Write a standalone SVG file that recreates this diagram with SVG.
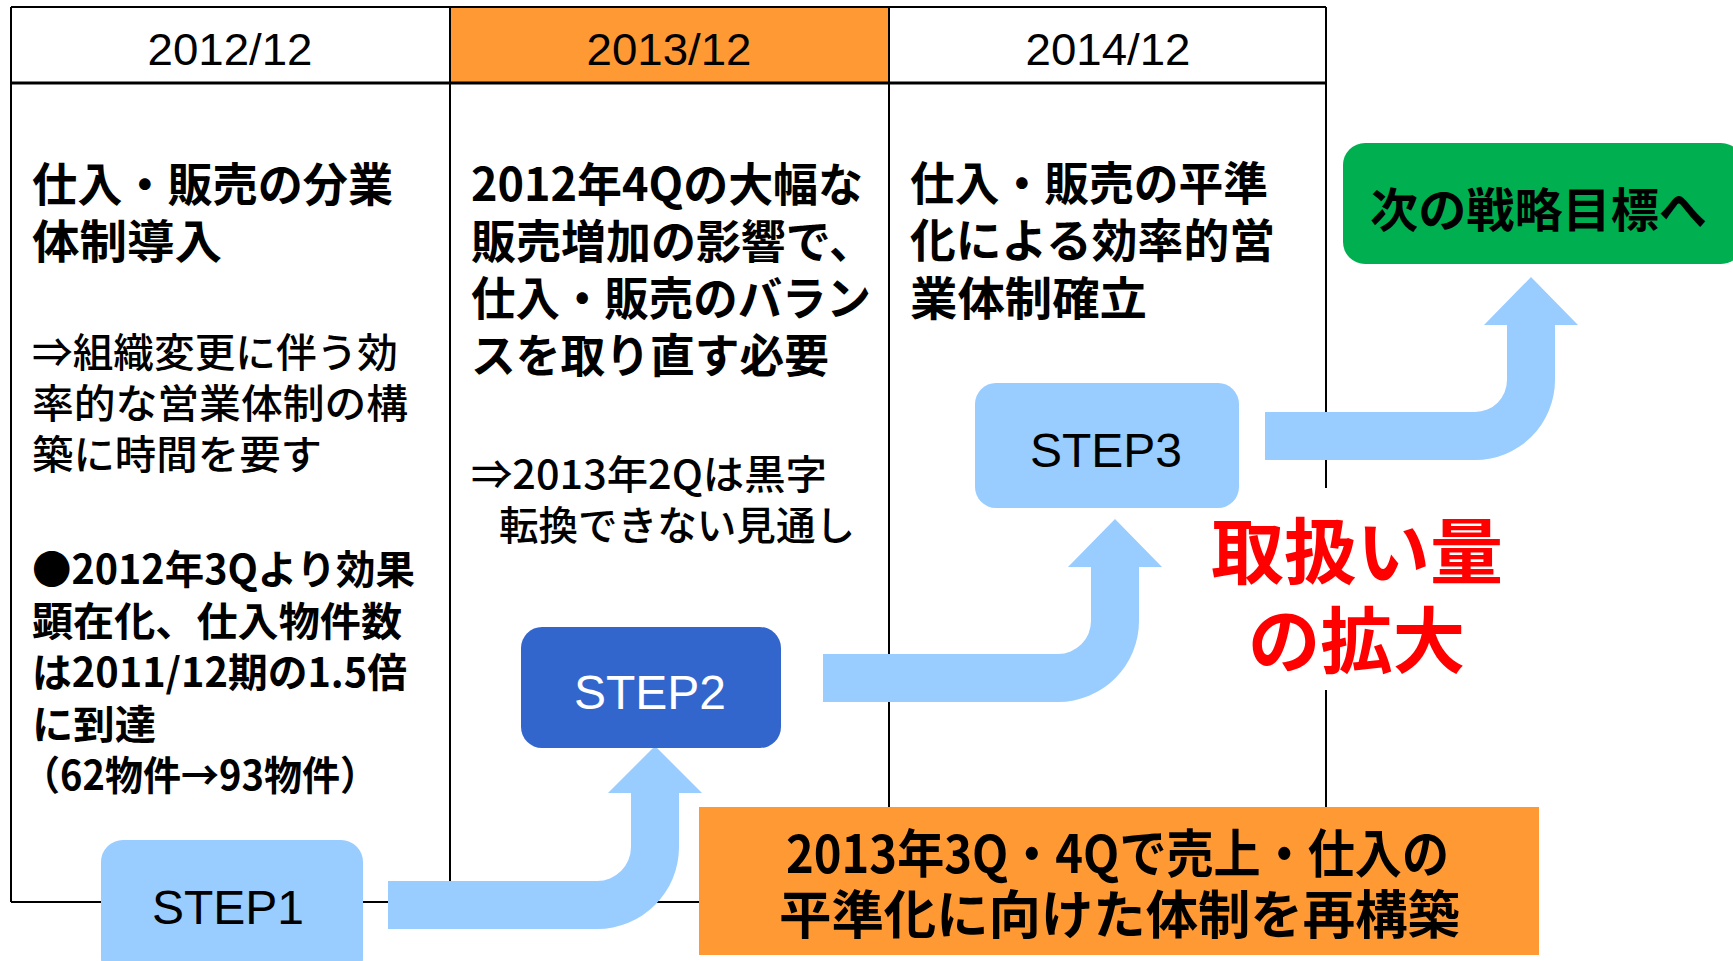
<svg xmlns="http://www.w3.org/2000/svg" width="1733" height="961" viewBox="0 0 1733 961">
<style>
.ln{stroke:#000;stroke-width:2;fill:none}
.hd{font-family:'Liberation Sans',Arial,sans-serif;font-size:44px;fill:#000;text-anchor:middle}
.jb{font-family:'Noto Sans CJK JP',sans-serif;font-weight:700;fill:#000}
.jr{font-family:'Noto Sans CJK JP',sans-serif;font-weight:500;fill:#000}
.t46{font-size:46px}
.t40{font-size:40px}
.step{font-family:'Liberation Sans',Arial,sans-serif;font-size:48px;text-anchor:middle}
.arrow{fill:#99CCFF}
.lb{fill:#99CCFF}
</style>
<rect width="1733" height="961" fill="#fff"/>
<g id="table">
  <rect x="450" y="7" width="439" height="76" fill="#FF9933"/>
  <line class="ln" x1="11" y1="7" x2="1326" y2="7"/>
  <line class="ln" x1="11" y1="7" x2="11" y2="902"/>
  <line class="ln" x1="11" y1="902" x2="1326" y2="902"/>
  <line class="ln" x1="1326" y1="7" x2="1326" y2="488"/>
  <line class="ln" x1="1326" y1="690" x2="1326" y2="902"/>
  <line class="ln" x1="450" y1="7" x2="450" y2="902"/>
  <line class="ln" x1="889" y1="7" x2="889" y2="902"/>
  <line class="ln" x1="11" y1="83" x2="1326" y2="83" style="stroke-width:3"/>
  <text class="hd" x="230" y="65" textLength="165" lengthAdjust="spacingAndGlyphs">2012/12</text>
  <text class="hd" x="669" y="65" textLength="165" lengthAdjust="spacingAndGlyphs">2013/12</text>
  <text class="hd" x="1108" y="65" textLength="165" lengthAdjust="spacingAndGlyphs">2014/12</text>
</g>
<g id="col1-text">
  <text class="jb t46" x="32" y="200.5" textLength="361" lengthAdjust="spacingAndGlyphs">仕入・販売の分業</text>
  <text class="jb t46" x="32" y="257.5" textLength="190" lengthAdjust="spacingAndGlyphs">体制導入</text>
  <text class="jr t40" x="32" y="367" textLength="366" lengthAdjust="spacingAndGlyphs">⇒組織変更に伴う効</text>
  <text class="jr t40" x="32" y="418" textLength="376" lengthAdjust="spacingAndGlyphs">率的な営業体制の構</text>
  <text class="jr t40" x="32" y="468.5" textLength="290" lengthAdjust="spacingAndGlyphs">築に時間を要す</text>
  <text class="jb t40" x="32" y="584" textLength="383" lengthAdjust="spacingAndGlyphs">●2012年3Qより効果</text>
  <text class="jb t40" x="32" y="636" textLength="370" lengthAdjust="spacingAndGlyphs">顕在化、仕入物件数</text>
  <text class="jb t40" x="32" y="687" textLength="375" lengthAdjust="spacingAndGlyphs">は2011/12期の1.5倍</text>
  <text class="jb t40" x="32" y="739" textLength="124" lengthAdjust="spacingAndGlyphs">に到達</text>
  <text class="jb t40" x="22" y="789.5" textLength="356" lengthAdjust="spacingAndGlyphs">（62物件→93物件）</text>
</g>
<g id="col2-text">
  <text class="jb t46" x="471" y="200.5" textLength="392" lengthAdjust="spacingAndGlyphs">2012年4Qの大幅な</text>
  <text class="jb t46" x="471" y="257.5" textLength="403" lengthAdjust="spacingAndGlyphs">販売増加の影響で、</text>
  <text class="jb t46" x="471" y="315" textLength="400" lengthAdjust="spacingAndGlyphs">仕入・販売のバラン</text>
  <text class="jb t46" x="471" y="371.5" textLength="358" lengthAdjust="spacingAndGlyphs">スを取り直す必要</text>
  <text class="jr t40" x="471" y="489" textLength="356" lengthAdjust="spacingAndGlyphs">⇒2013年2Qは黒字</text>
  <text class="jr t40" x="499" y="540" textLength="356" lengthAdjust="spacingAndGlyphs">転換できない見通し</text>
</g>
<g id="col3-text">
  <text class="jb t46" x="910" y="200" textLength="358" lengthAdjust="spacingAndGlyphs">仕入・販売の平準</text>
  <text class="jb t46" x="910" y="256.5" textLength="365" lengthAdjust="spacingAndGlyphs">化による効率的営</text>
  <text class="jb t46" x="910" y="315" textLength="237" lengthAdjust="spacingAndGlyphs">業体制確立</text>
</g>
<g id="connectors">
  <path class="arrow" d="M388,881 H597 A34,34 0 0 0 631,847 V793 H608 L655,746 L702,793 H679 V847 A82,82 0 0 1 597,929 H388 Z"/>
  <path class="arrow" d="M823,654 H1058 A33,33 0 0 0 1091,621 V567 H1068 L1115,519 L1162,567 H1139 V621 A81,81 0 0 1 1058,702 H823 Z"/>
  <path class="arrow" d="M1265,412 H1475 A32,32 0 0 0 1507,380 V325 H1484 L1531,277 L1578,325 H1555 V380 A80,80 0 0 1 1475,460 H1265 Z"/>
</g>
<g id="step1">
  <rect class="lb" x="101" y="840" width="262" height="140" rx="22"/>
  <text class="step" x="228" y="924" fill="#000">STEP1</text>
</g>
<g id="step2">
  <rect x="521" y="627" width="260" height="121" rx="21" fill="#3366CC"/>
  <text class="step" x="650" y="709" fill="#fff">STEP2</text>
</g>
<g id="step3">
  <rect class="lb" x="975" y="383" width="264" height="125" rx="21"/>
  <text class="step" x="1106" y="467" fill="#000">STEP3</text>
</g>
<g id="next-goal">
  <rect x="1343" y="143" width="400" height="121" rx="22" fill="#00B050"/>
  <text class="jb" x="1370" y="226.5" style="font-size:47px" textLength="337" lengthAdjust="spacingAndGlyphs">次の戦略目標へ</text>
</g>
<g id="volume">
  <text class="jb" x="1211" y="577.5" style="font-size:72px;fill:#FF0000" textLength="292" lengthAdjust="spacingAndGlyphs">取扱い量</text>
  <text class="jb" x="1248" y="667" style="font-size:72px;fill:#FF0000" textLength="217" lengthAdjust="spacingAndGlyphs">の拡大</text>
</g>
<g id="rebuild">
  <rect x="699" y="807" width="840" height="148" fill="#FF9933"/>
  <text class="jb" x="786" y="873" style="font-size:52px" textLength="663" lengthAdjust="spacingAndGlyphs">2013年3Q・4Qで売上・仕入の</text>
  <text class="jb" x="779" y="934" style="font-size:52px" textLength="681" lengthAdjust="spacingAndGlyphs">平準化に向けた体制を再構築</text>
</g>
</svg>
